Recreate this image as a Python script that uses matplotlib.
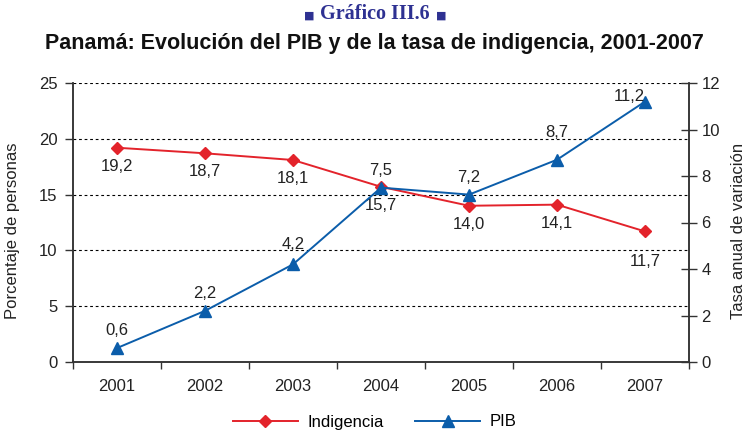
import matplotlib
matplotlib.use("Agg")
import matplotlib.pyplot as plt
from matplotlib.lines import Line2D

years = ["2001", "2002", "2003", "2004", "2005", "2006", "2007"]
indigencia = [19.2, 18.7, 18.1, 15.7, 14.0, 14.1, 11.7]
pib = [0.6, 2.2, 4.2, 7.5, 7.2, 8.7, 11.2]
left_ticks = [0, 5, 10, 15, 20, 25]
right_ticks = [0, 2, 4, 6, 8, 10, 12]

# label offsets (points) for readability
ind_off = [(0, -8), (0, -8), (0, -8), (0, -8), (0, -8), (0, -8), (0, -16)]
pib_off = [(0, 7), (0, 7), (0, 9), (0, 7), (0, 7), (0, 14), (-11, -2)]

RED = "#E3232B"
BLUE = "#0B5DAA"
NAVY = "#2E3192"
AX = "#333333"
TXT = "#222222"

plt.rcParams['font.family'] = ['Liberation Sans', 'DejaVu Sans']

fig = plt.figure(figsize=(7.49, 4.32), dpi=100)
ax = fig.add_axes([73/749, 1-362/432, 616/749, 279/432])
ax2 = ax.twinx()

x = list(range(len(years)))
ax.set_xlim(-0.5, len(years)-0.5)
ax.set_ylim(0, 25)
ax2.set_ylim(0, 12)

for t in left_ticks[1:]:
    ax.axhline(t, color="black", lw=0.8, ls=(0, (2.5, 2.5)), zorder=1)

ax.plot(x, indigencia, color=RED, lw=1.4, marker="D", ms=6.5, zorder=3)
ax2.plot(x, pib, color=BLUE, lw=1.4, marker="^", ms=9, zorder=3)

fs = 12
for i, v in enumerate(indigencia):
    ax.annotate(f"{v:.1f}".replace(".", ","), (i, v), xytext=ind_off[i],
                textcoords="offset points", ha="center", va="top", fontsize=fs, color=TXT)
for i, v in enumerate(pib):
    ax2.annotate(f"{v:.1f}".replace(".", ","), (i, v), xytext=pib_off[i],
                 textcoords="offset points", ha="center", va="bottom", fontsize=fs, color=TXT)

ax.set_xticks(x)
ax.set_xticklabels(years, fontsize=fs, color=TXT)
ax.set_xticks([i - 0.5 for i in range(len(years)+1)], minor=True)
ax.tick_params(axis="x", which="major", length=0, pad=12)
ax.tick_params(axis="x", which="minor", length=5, width=1, color=AX, direction="out")

ax.set_yticks(left_ticks)
ax.tick_params(axis="y", length=6, width=1, color=AX, direction="out", labelsize=fs, labelcolor=TXT, pad=5)
ax2.set_yticks(right_ticks)
ax2.tick_params(axis="y", length=12, width=1, color=AX, direction="inout", labelsize=fs, labelcolor=TXT, pad=3)

for a in (ax, ax2):
    a.spines["top"].set_visible(False)
    for s in ("left", "right", "bottom"):
        a.spines[s].set_color(AX)
        a.spines[s].set_linewidth(1.1)

ax.set_ylabel("Porcentaje de personas", fontsize=fs, color=TXT)
ax.yaxis.set_label_coords(-53/616, 0.47)
ax2.set_ylabel("Tasa anual de variación", fontsize=fs, color=TXT)
ax2.yaxis.set_label_coords(1 + 42/616, 0.47)

fig.text(0.5, 1-14/432, "Gráfico III.6", ha="center", va="center",
         fontsize=14.5, color=NAVY, fontweight="bold", family="Liberation Serif")
for xs in (309, 441):
    fig.text(xs/749, 1-16/432, "■", ha="center", va="center", fontsize=8, color=NAVY,
             family="DejaVu Sans")
fig.text(0.5, 1-43/432, "Panamá: Evolución del PIB y de la tasa de indigencia, 2001-2007",
         ha="center", va="center", fontsize=15.5, fontweight="bold", color="#111111")

h1 = Line2D([], [], color=RED, lw=1.4, marker="D", ms=6.5)
h2 = Line2D([], [], color=BLUE, lw=1.4, marker="^", ms=9)
fig.legend([h1, h2], ["Indigencia", "PIB"], loc="center", bbox_to_anchor=(0.5, 1-422/432),
           ncol=2, frameon=False, fontsize=fs, handlelength=3.9, columnspacing=1.9, handletextpad=0.55)

fig.savefig("out.png", dpi=100)
